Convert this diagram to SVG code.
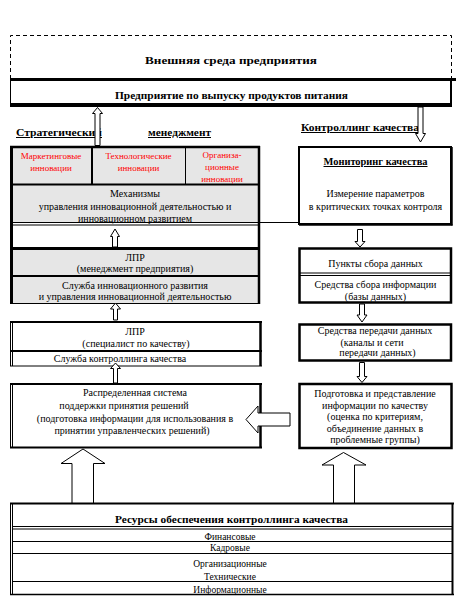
<svg xmlns="http://www.w3.org/2000/svg" width="461" height="597" viewBox="0 0 461 597" font-family="'Liberation Serif', 'DejaVu Serif', serif">
<style>
text{font-family:'Liberation Serif','DejaVu Serif',serif;font-size:10px;fill:#000;text-anchor:middle}
.b{font-weight:bold}
.u{text-decoration:underline}
.r{fill:#ff0000;font-size:9px}
.s{font-size:9.5px}
.g{fill:#e6e6e6}
.ln{stroke:#000;fill:none}
.arr{fill:#fff;stroke:#000;stroke-width:1}
</style>
<rect width="461" height="597" fill="#fff"/>

<g id="env">
<path class="ln" d="M10.5,79 V35.5 H451.5 V79" stroke-dasharray="4,3"/>
<text class="b" x="231" y="64" font-size="13" textLength="172" lengthAdjust="spacingAndGlyphs">Внешняя среда предприятия</text>
</g>

<g id="enterprise">
<rect x="10" y="78" width="446" height="3" fill="#000"/>
<line class="ln" x1="10.5" y1="81" x2="10.5" y2="103"/>
<rect x="450" y="81" width="2" height="22" fill="#000"/>
<rect x="10" y="103" width="442" height="4" fill="#000"/>
<text class="b" x="231.5" y="99" font-size="12" textLength="233" lengthAdjust="spacingAndGlyphs">Предприятие по выпуску продуктов питания</text>
</g>

<g id="labels">
<text class="b u" x="16" y="136" font-size="12" style="text-anchor:start" textLength="86" lengthAdjust="spacingAndGlyphs">Стратегический</text>
<text class="b u" x="148" y="136" font-size="12" style="text-anchor:start" textLength="63" lengthAdjust="spacingAndGlyphs">менеджмент</text>
<text class="b u" x="301" y="131" font-size="12" style="text-anchor:start" textLength="118" lengthAdjust="spacingAndGlyphs">Контроллинг качества</text>
</g>

<g id="strategic-block">
<rect class="g" x="11" y="147" width="248" height="76"/>
<rect class="g" x="11" y="250" width="248" height="53"/>
<line class="ln" x1="11.5" y1="146" x2="11.5" y2="304" stroke-width="3"/>
<line class="ln" x1="259" y1="146" x2="259" y2="304" stroke-width="2.5"/>
<line class="ln" x1="10" y1="147" x2="260" y2="147" stroke-width="2.5"/>
<line class="ln" x1="92" y1="147" x2="92" y2="184" stroke-width="2"/>
<line class="ln" x1="185.5" y1="147" x2="185.5" y2="184"/>
<line class="ln" x1="10" y1="184.5" x2="260" y2="184.5" stroke-width="2"/>
<line class="ln" x1="10" y1="222.5" x2="260" y2="222.5"/>
<line class="ln" x1="10" y1="225" x2="260" y2="225"/>
<line class="ln" x1="10" y1="248.5" x2="260" y2="248.5" stroke-width="3"/>
<line class="ln" x1="10" y1="276" x2="260" y2="276" stroke-width="2"/>
<line class="ln" x1="10" y1="303.5" x2="260" y2="303.5"/>
</g>

<g id="marketing">
<text class="r" x="51" y="158.5">Маркетинговые</text>
<text class="r" x="51" y="171">инновации</text>
</g>
<g id="technological">
<text class="r" x="138.5" y="158.5">Технологические</text>
<text class="r" x="138.5" y="171">инновации</text>
</g>
<g id="organizational">
<text class="r" x="222" y="158">Организа-</text>
<text class="r" x="222" y="170">ционные</text>
<text class="r" x="222" y="182">инновации</text>
</g>
<g id="mechanisms">
<text x="135" y="197">Механизмы</text>
<text x="135" y="210">управления инновационной деятельностью и</text>
<text x="135" y="221.5">инновационном развитием</text>
</g>
<g id="lpr-management">
<text x="135" y="260.5">ЛПР</text>
<text x="135" y="272">(менеджмент предприятия)</text>
</g>
<g id="innovation-service">
<text x="135" y="288.5">Служба инновационного развития</text>
<text x="135" y="300">и управления инновационной деятельностью</text>
</g>

<g id="lpr-quality">
<line class="ln" x1="10" y1="322" x2="262" y2="322" stroke-width="2"/>
<line class="ln" x1="10.5" y1="321" x2="10.5" y2="366"/>
<line class="ln" x1="12.5" y1="321" x2="12.5" y2="366"/>
<line class="ln" x1="260.5" y1="321" x2="260.5" y2="366" stroke-width="2.5"/>
<line class="ln" x1="10" y1="351" x2="262" y2="351" stroke-width="2"/>
<line class="ln" x1="10" y1="366" x2="262" y2="366"/>
<text x="135" y="335">ЛПР</text>
<text x="136" y="346.5">(специалист по качеству)</text>
<text x="120" y="362">Служба контроллинга качества</text>
</g>

<g id="dss">
<line class="ln" x1="10" y1="384" x2="262" y2="384" stroke-width="2"/>
<line class="ln" x1="10.5" y1="383" x2="10.5" y2="448"/>
<line class="ln" x1="12.5" y1="383" x2="12.5" y2="448"/>
<line class="ln" x1="260.5" y1="383" x2="260.5" y2="448" stroke-width="2.5"/>
<line class="ln" x1="10" y1="447.5" x2="262" y2="447.5" stroke-width="2"/>
<text x="135" y="396">Распределенная система</text>
<text x="124" y="409">поддержки принятия решений</text>
<text x="135" y="421.5">(подготовка информации для использования в</text>
<text x="132" y="434">принятии управленческих решений)</text>
</g>

<g id="monitoring">
<rect class="ln" x="299" y="147" width="152" height="77" stroke-width="2"/>
<line class="ln" x1="452" y1="147" x2="452" y2="225.5" stroke-width="1.5"/>
<line class="ln" x1="299" y1="225" x2="452.5" y2="225" stroke-width="1.5"/>
<text class="b u" x="375.5" y="165" font-size="11" textLength="104" lengthAdjust="spacingAndGlyphs">Мониторинг качества</text>
<text x="375.5" y="197">Измерение параметров</text>
<text x="375.5" y="209.5">в критических точках контроля</text>
</g>

<g id="collection">
<rect class="ln" x="299.5" y="248.5" width="151.5" height="54" stroke-width="2.5"/>
<line class="ln" x1="299" y1="273" x2="451" y2="273"/>
<line class="ln" x1="299" y1="275.5" x2="451" y2="275.5"/>
<text x="375.5" y="267">Пункты сбора данных</text>
<text x="375.5" y="288">Средства сбора информации</text>
<text x="375.5" y="299.5">(базы данных)</text>
</g>

<g id="transmission">
<rect class="ln" x="299.5" y="324.5" width="151.5" height="36" stroke-width="2.5"/>
<text x="375" y="334">Средства передачи данных</text>
<text x="372" y="345.5">(каналы и сети</text>
<text x="377.5" y="356">передачи данных)</text>
</g>

<g id="preparation">
<rect class="ln" x="299.5" y="384" width="152" height="64" stroke-width="2.5"/>
<text x="375" y="397">Подготовка и представление</text>
<text x="375" y="408.5">информации по качеству</text>
<text x="375" y="420">(оценка по критериям,</text>
<text x="375" y="431.5">объединение данных в</text>
<text x="375" y="443">проблемные группы)</text>
</g>

<g id="resources">
<line class="ln" x1="10" y1="503.5" x2="454" y2="503.5" stroke-width="2"/>
<line class="ln" x1="10.5" y1="503" x2="10.5" y2="595"/>
<line class="ln" x1="12.5" y1="503" x2="12.5" y2="595"/>
<line class="ln" x1="452.5" y1="503" x2="452.5" y2="595" stroke-width="2"/>
<line class="ln" x1="12" y1="526.5" x2="452" y2="526.5"/>
<line class="ln" x1="12" y1="529" x2="452" y2="529"/>
<line class="ln" x1="12" y1="541.5" x2="452" y2="541.5"/>
<line class="ln" x1="12" y1="553.5" x2="452" y2="553.5"/>
<line class="ln" x1="12" y1="581.5" x2="452" y2="581.5"/>
<line class="ln" x1="10" y1="594.5" x2="454" y2="594.5" stroke-width="1.5"/>
<text class="b" x="231.5" y="523" font-size="12" textLength="233" lengthAdjust="spacingAndGlyphs">Ресурсы обеспечения контроллинга качества</text>
<text class="s" x="230" y="539.5">Финансовые</text>
<text class="s" x="230" y="551">Кадровые</text>
<text class="s" x="230" y="566.5">Организационные</text>
<text class="s" x="230" y="579.5">Технические</text>
<text class="s" x="230" y="592.5">Информационные</text>
</g>

<g id="connectors">
<polygon class="arr" points="97.5,107.5 102.5,113.5 100,113.5 100,145.5 95,145.5 95,113.5 92.5,113.5"/>
<polygon class="arr" points="418,107 423,107 423,133.5 425.5,133.5 420.5,142 415.5,133.5 418,133.5"/>
<polygon class="arr" points="115,229 119.5,236.5 117.5,236.5 117.5,247 112.5,247 112.5,236.5 110.5,236.5"/>
<polygon class="arr" points="115.5,303 120.5,309 117.5,309 117.5,320 113.5,320 113.5,309 110.5,309"/>
<polygon class="arr" points="115.5,363 120.5,368.5 117.5,368.5 117.5,383 113.5,383 113.5,368.5 110.5,368.5"/>
<line class="ln" x1="260" y1="222.5" x2="298" y2="222.5"/>
<polygon class="arr" points="357.5,229.5 362.5,229.5 362.5,241.5 365,241.5 360,247 355,241.5 357.5,241.5"/>
<polygon class="arr" points="359.5,304 364.5,304 364.5,315 367,315 362,322 357,315 359.5,315"/>
<polygon class="arr" points="359.5,362.5 364.5,362.5 364.5,376.5 367,376.5 362,382.5 357,376.5 359.5,376.5"/>
<polygon class="arr" points="246,419.5 258,406 258,413 290,413 290,426 258,426 258,433"/>
<polygon class="arr" points="83,449 105,463.5 93.5,463.5 93.5,503 72,503 72,463.5 61,463.5"/>
<polygon class="arr" points="343.5,452.5 366,465 354.5,465 354.5,503 333.5,503 333.5,465 322,465"/>
</g>
</svg>
